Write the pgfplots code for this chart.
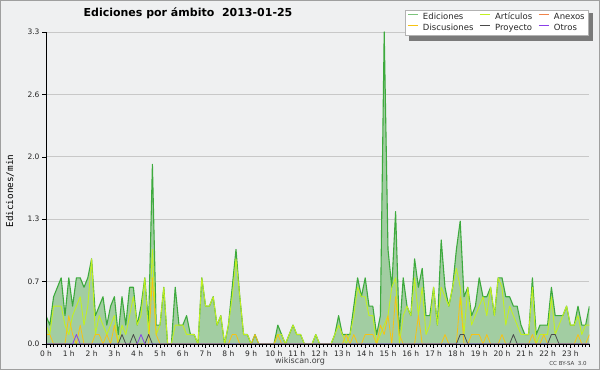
\documentclass[border=0pt]{standalone}
\usepackage{fontspec}
\setmainfont{DejaVu Sans}
\newfontfamily\monofont{DejaVu Sans Mono}
\usepackage{pgfplots}
\usepackage{pgfplotstable}
\pgfplotsset{compat=1.18}
\definecolor{bgc}{HTML}{EFF0F1}
\definecolor{fillg}{HTML}{A2CDA2}
\definecolor{edg}{HTML}{3DAA3D}
\definecolor{legE}{HTML}{7CC47C}
\definecolor{artc}{HTML}{C2F021}
\definecolor{disc}{HTML}{F7C312}
\definecolor{anex}{HTML}{F0844A}
\definecolor{proy}{HTML}{4A4A4A}
\definecolor{otro}{HTML}{8A3FE8}
\definecolor{gridc}{HTML}{C8C8C8}
\definecolor{shad}{HTML}{7A7A7A}
\pgfdeclarelayer{bgimg}
\pgfplotsset{layers/mine/.define layer set={bgimg,axis background,axis grid,pre main,main,axis ticks,axis lines,axis tick labels,axis descriptions,axis foreground}{/pgfplots/layers/standard}}

\pgfplotstableread{
t E A D P O
0 0.3 0.2 0.1 0 0
1 0.2 0.1 0.1 0 0
2 0.5 0.4 0 0 0
3 0.6 0.4 0 0 0
4 0.7 0.4 0 0 0
5 0.3 0.2 0 0 0
6 0.7 0.1 0.3 0 0
7 0.4 0.3 0.1 0 0
8 0.7 0.4 0 0 0.1
9 0.7 0.5 0.2 0 0
10 0.6 0.2 0 0 0
11 0.7 0.4 0 0 0
12 0.9 0.9 0 0 0
13 0.3 0.1 0.1 0 0
14 0.4 0.3 0.1 0 0
15 0.5 0.2 0 0 0
16 0.2 0.1 0.1 0 0
17 0.4 0.2 0 0 0
18 0.5 0.3 0.2 0 0
19 0.1 0 0 0 0
20 0.5 0.2 0 0.1 0
21 0.2 0.1 0 0 0
22 0.6 0.3 0 0 0
23 0.6 0.5 0 0.1 0
24 0.2 0.2 0 0 0
25 0.4 0.3 0 0 0.1
26 0.7 0.7 0 0 0
27 0.2 0.1 0 0.1 0
28 1.9 1.0 0.7 0 0
29 0.2 0.1 0.1 0 0
30 0.2 0.2 0 0 0
31 0.6 0.6 0 0 0
32 0 0 0 0 0
33 0 0 0 0 0
34 0.6 0.2 0 0 0
35 0.2 0.2 0 0 0
36 0.2 0.2 0 0 0
37 0.3 0.1 0 0 0
38 0.1 0.1 0 0 0
39 0.1 0.1 0 0 0
40 0 0 0 0 0
41 0.7 0.7 0 0 0
42 0.4 0.4 0 0 0
43 0.4 0.4 0 0 0
44 0.5 0.5 0 0 0
45 0.2 0.2 0 0 0
46 0.3 0.3 0 0 0
47 0 0 0 0 0
48 0.2 0.2 0 0 0
49 0.6 0.5 0.1 0 0
50 1.0 0.9 0.1 0 0
51 0.5 0.5 0 0 0
52 0.1 0.1 0 0 0
53 0.1 0.1 0 0 0
54 0 0 0 0 0
55 0.1 0 0.1 0 0
56 0 0 0 0 0
57 0 0 0 0 0
58 0 0 0 0 0
59 0 0 0 0 0
60 0 0 0 0 0
61 0.2 0.1 0.1 0 0
62 0.1 0.1 0 0 0
63 0 0 0 0 0
64 0.1 0.1 0 0 0
65 0.2 0.2 0 0 0
66 0.1 0.1 0 0 0
67 0.1 0.1 0 0 0
68 0 0 0 0 0
69 0 0 0 0 0
70 0 0 0 0 0
71 0.1 0.1 0 0 0
72 0 0 0 0 0
73 0 0 0 0 0
74 0 0 0 0 0
75 0 0 0 0 0
76 0.1 0.1 0 0 0
77 0.3 0.2 0 0 0
78 0.1 0.1 0 0 0
79 0.1 0 0.1 0 0
80 0.1 0.1 0 0 0
81 0.4 0.3 0.1 0 0
82 0.7 0.6 0 0 0
83 0.5 0.5 0 0 0
84 0.7 0.5 0.1 0 0
85 0.4 0.3 0.1 0 0
86 0.4 0.3 0.1 0 0
87 0.1 0 0 0 0
88 0.3 0.1 0.2 0 0
89 3.3 0.2 0.1 0 0
90 1.0 0.3 0.3 0 0
91 0.6 0.6 0 0 0
92 1.4 0.7 0.5 0 0
93 0.1 0 0.1 0 0
94 0.7 0.3 0 0 0
95 0.4 0.4 0 0 0
96 0.3 0.3 0 0 0
97 0.9 0.7 0 0 0
98 0.6 0.3 0.3 0 0
99 0.8 0.6 0 0 0
100 0.3 0.1 0 0 0
101 0.3 0.2 0 0 0
102 0.6 0.6 0 0 0
103 0.2 0.2 0 0 0
104 1.1 0.6 0 0 0
105 0.6 0.5 0.1 0 0
106 0.4 0.4 0 0 0
107 0.6 0.6 0 0 0
108 1.0 0.8 0 0 0
109 1.3 0.6 0.5 0.1 0
110 0.5 0.1 0 0.1 0
111 0.6 0.6 0 0 0
112 0.3 0.2 0.1 0 0
113 0.4 0.3 0.1 0 0
114 0.7 0.4 0.1 0 0
115 0.5 0.5 0 0 0
116 0.5 0.3 0.1 0 0
117 0.6 0.6 0 0 0
118 0.3 0.3 0 0 0
119 0.7 0.7 0 0 0
120 0.7 0.6 0.1 0 0
121 0.5 0.2 0 0 0
122 0.5 0.4 0 0 0
123 0.4 0.3 0 0.1 0
124 0.4 0.2 0 0 0
125 0.2 0.1 0 0 0
126 0.1 0.1 0 0 0
127 0.1 0.1 0 0 0
128 0.7 0.6 0.1 0 0
129 0.1 0 0 0 0
130 0.2 0.1 0 0 0
131 0.2 0.1 0.1 0 0
132 0.2 0.1 0 0 0
133 0.6 0.5 0 0.1 0
134 0.3 0.1 0 0.1 0
135 0.3 0.2 0 0 0
136 0.3 0.3 0 0 0
137 0.4 0.4 0 0 0
138 0.2 0.2 0 0 0
139 0.2 0.2 0 0 0
140 0.4 0.3 0.1 0 0
141 0.2 0.1 0 0 0
142 0.2 0.2 0 0 0
143 0.4 0.2 0.1 0 0
}\data

\begin{document}
\begin{tikzpicture}
\begin{axis}[
  set layers=mine,
  clip mode=individual,
  at={(46pt,26pt)}, anchor=south west,
  scale only axis, width=543.4pt, height=312pt,
  xmin=0, xmax=143, ymin=0, ymax=3.3,
  axis x line=bottom, axis y line=left,
  axis line style={-, black, line width=0.8pt},
  xtick={0,6,...,138},
  xticklabels={0 h,1 h,2 h,3 h,4 h,5 h,6 h,7 h,8 h,9 h,10 h,11 h,12 h,13 h,14 h,15 h,16 h,17 h,18 h,19 h,20 h,21 h,22 h,23 h},
  minor xtick={0,1,...,143},
  ytick={0,0.66,1.32,1.98,2.64,3.3},
  yticklabels={0.0,0.7,1.3,2.0,2.6,3.3},
  tick align=outside,
  major tick length=4pt, minor tick length=3pt,
  tick style={black, line width=0.6pt},
  ymajorgrids, grid style={color=gridc, line width=0.7pt},
  ticklabel style={font=\fontsize{7.5}{9}\selectfont, text=black!85},
  xticklabel style={yshift=1pt},
  yticklabel style={xshift=1pt},
  ylabel={Ediciones/min},
  ylabel style={font=\monofont\fontsize{9.3}{10}\selectfont, at={(axis description cs:-0.066,0.49)}, anchor=center},
  no markers,
  legend columns=3,
  legend cell align=left,
  legend image code/.code={\draw[#1, line width=1.1pt] (0pt,2.8pt) -- (10pt,2.8pt); \path (0pt,0pt) (13pt,0pt);},
  legend style={at={(0.999,1.072)}, anchor=north east, draw=gray!60, fill=white,
    font=\fontsize{8.5}{9}\selectfont, text=black!85,
    inner xsep=2pt, inner ysep=1pt, row sep=-1pt,
    /tikz/every even column/.append style={column sep=4pt}},
]
\begin{pgfonlayer}{bgimg}
\fill[bgc] (rel axis cs:-0.08465,-0.08333) rectangle (rel axis cs:1.01951,1.10256);
\draw[gray!75, line width=1pt] (rel axis cs:-0.08373,-0.08173) rectangle (rel axis cs:1.01859,1.10096);
\fill[shad] (rel axis cs:0.6680,0.9712) rectangle (rel axis cs:1.0066,1.0593);
\end{pgfonlayer}
\addlegendimage{color=legE}\addlegendentry{Ediciones}
\addlegendimage{color=artc}\addlegendentry{Artículos}
\addlegendimage{color=anex}\addlegendentry{Anexos}
\addlegendimage{color=disc}\addlegendentry{Discusiones}
\addlegendimage{color=proy}\addlegendentry{Proyecto}
\addlegendimage{color=otro}\addlegendentry{Otros}
\addplot[draw=none, fill=fillg, forget plot] table[x=t,y=E]{\data} \closedcycle;
\addplot[edg, line width=1.1pt, line join=round, forget plot] table[x=t,y=E]{\data};
\addplot[artc, line width=0.9pt, line join=round, forget plot] table[x=t,y=A]{\data};
\addplot[disc, line width=0.8pt, line join=round, forget plot] table[x=t,y=D]{\data};
\addplot[proy, line width=0.8pt, line join=round, forget plot] table[x=t,y=P]{\data};
\addplot[otro, line width=0.8pt, line join=round, forget plot] table[x=t,y=O]{\data};
\end{axis}
\node[font=\bfseries\fontsize{11}{13}\selectfont] at (188pt,357pt) {Ediciones por ámbito\ \ 2013-01-25};
\node[font=\fontsize{8}{9}\selectfont, text=black!75] at (300pt,9pt) {wikiscan.org};
\node[font=\fontsize{5.5}{6}\selectfont, text=black!75] at (568pt,7pt) {CC BY-SA\ \ 3.0};
\pgfresetboundingbox
\useasboundingbox (0pt,0pt) rectangle (600pt,370pt);
\end{tikzpicture}
\end{document}
